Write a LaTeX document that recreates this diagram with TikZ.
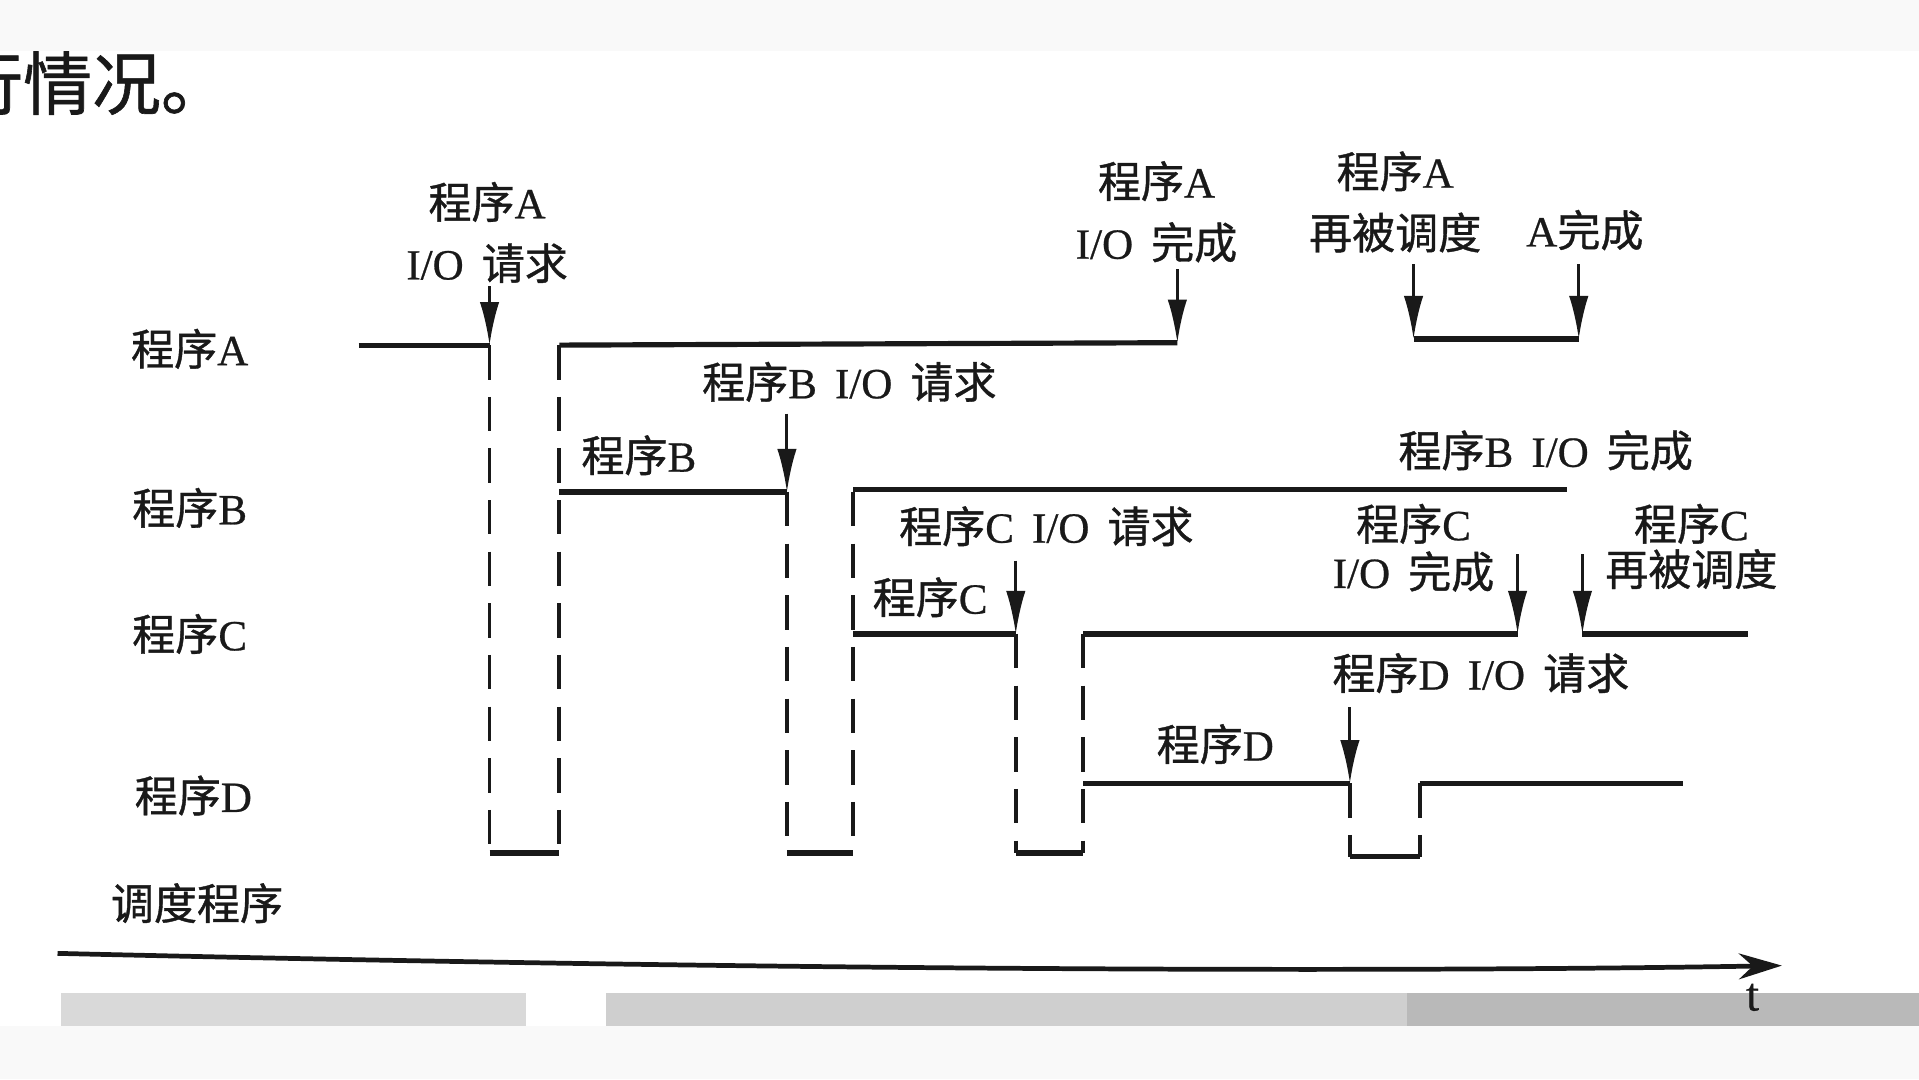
\documentclass[tikz,border=0pt]{standalone}
\usepackage{fontspec}
\setmainfont{Liberation Serif}[FakeBold=0.6]
\newfontfamily\cjk{Noto Sans CJK SC}[FakeBold=0.9]
\usetikzlibrary{arrows.meta}
\newcommand\zh[1]{{\cjk #1}}
\newcommand\gp{\hspace{0.42em}}
\definecolor{ink}{gray}{0.1}
\definecolor{paper}{gray}{0.975}
\begin{document}
\begin{tikzpicture}[x=0.01cm,y=-0.01cm,
  lab/.style={inner sep=0pt,text=ink,font=\fontsize{10}{11}\selectfont},
  sig/.style={draw=ink,line width=1.2pt},
  dsh/.style={draw=ink,line width=0.9pt,dash pattern=on 8pt off 4pt},
  evt/.style={draw=ink,line width=0.7pt,-{Latex[length=10pt,width=4.5pt]}},
  axis/.style={draw=ink,line width=1.1pt,-{Stealth[length=10pt,width=6pt]}}]
\useasboundingbox (0,0) rectangle (1568,882);
% page background bands
\fill[paper] (0,0) rectangle (1568,42);
\fill[paper] (0,838) rectangle (1568,882);
\fill[gray!30] (50,811) rectangle (430,838);
\fill[gray!38] (495,811) rectangle (1150,838);
\fill[gray!55] (1150,811) rectangle (1568,838);
% heading fragment
\node[inner sep=0pt,anchor=west,text=ink,font=\fontsize{16}{17}\selectfont] (head) at (-38,68) {\zh{行情况。}};
% row labels
\node[lab] (rA) at (155,285) {\zh{程序}A};
\node[lab] (rB) at (155,415) {\zh{程序}B};
\node[lab] (rC) at (155,518) {\zh{程序}C};
\node[lab] (rD) at (158,650) {\zh{程序}D};
\node[lab] (rS) at (161,738) {\zh{调度程序}};
% event labels
\node[lab] (l1a) at (398,165) {\zh{程序}A};
\node[lab] (l1b) at (398,215) {I/O\gp\zh{请求}};
\node[lab] (l2a) at (945,148) {\zh{程序}A};
\node[lab] (l2b) at (945,198) {I/O\gp\zh{完成}};
\node[lab] (l3a) at (1140,140) {\zh{程序}A};
\node[lab] (l3b) at (1140,190) {\zh{再被调度}};
\node[lab] (l4) at (1295,188) {A\zh{完成}};
\node[lab] (l5) at (694,312) {\zh{程序}B\gp I/O\gp\zh{请求}};
\node[lab] (l6) at (522,372) {\zh{程序}B};
\node[lab] (l7) at (1263,368) {\zh{程序}B\gp I/O\gp\zh{完成}};
\node[lab] (l8) at (855,430) {\zh{程序}C\gp I/O\gp\zh{请求}};
\node[lab] (l9) at (760,488) {\zh{程序}C};
\node[lab] (l10a) at (1155,428) {\zh{程序}C};
\node[lab] (l10b) at (1155,467) {I/O\gp\zh{完成}};
\node[lab] (l11a) at (1382,428) {\zh{程序}C};
\node[lab] (l11b) at (1382,465) {\zh{再被调度}};
\node[lab] (l12) at (1210,550) {\zh{程序}D\gp I/O\gp\zh{请求}};
\node[lab] (l13) at (993,608) {\zh{程序}D};
% program A
\draw[sig] (293,282) -- (400,282);
\draw[sig] (457,282) -- (962,280);
\draw[sig] (1155,277) -- (1290,277);
% program B
\draw[sig] (457,402) -- (643,402);
\draw[sig] (697,400) -- (1280,400);
% program C
\draw[sig] (697,518) -- (830,518);
\draw[sig] (885,518) -- (1240,518);
\draw[sig] (1293,518) -- (1428,518);
% program D
\draw[sig] (885,640) -- (1103,640);
\draw[sig] (1160,640) -- (1375,640);
% scheduler slots
\draw[dsh] (400,282) -- (400,697);
\draw[dsh] (457,282) -- (457,697);
\draw[sig] (400,697) -- (457,697);
\draw[dsh] (643,402) -- (643,697);
\draw[dsh] (697,402) -- (697,697);
\draw[sig] (643,697) -- (697,697);
\draw[dsh] (830,518) -- (830,697);
\draw[dsh] (885,518) -- (885,697);
\draw[sig] (830,697) -- (885,697);
\draw[dsh] (1103,640) -- (1103,700);
\draw[dsh] (1160,640) -- (1160,700);
\draw[sig] (1103,700) -- (1160,700);
% event arrows
\coordinate (e1s) at (400,234); \coordinate (e1e) at (400,282);
\coordinate (e2s) at (962,220); \coordinate (e2e) at (962,280);
\coordinate (e3s) at (1155,216); \coordinate (e3e) at (1155,277);
\coordinate (e4s) at (1290,216); \coordinate (e4e) at (1290,277);
\coordinate (e5s) at (643,338); \coordinate (e5e) at (643,402);
\coordinate (e6s) at (830,458); \coordinate (e6e) at (830,518);
\coordinate (e7s) at (1240,453); \coordinate (e7e) at (1240,518);
\coordinate (e8s) at (1293,453); \coordinate (e8e) at (1293,518);
\coordinate (e9s) at (1103,578); \coordinate (e9e) at (1103,640);
\foreach \i in {1,...,9} \draw[evt] (e\i s) -- (e\i e);
% time axis
\coordinate (t0) at (47,779);
\coordinate (t1) at (1456,789);
\draw[axis] (t0) .. controls (600,792) and (1100,795) .. (t1);
\node[lab,font=\fontsize{11}{12}\selectfont] (tl) at (1432,815) {t};
\end{tikzpicture}
\end{document}
